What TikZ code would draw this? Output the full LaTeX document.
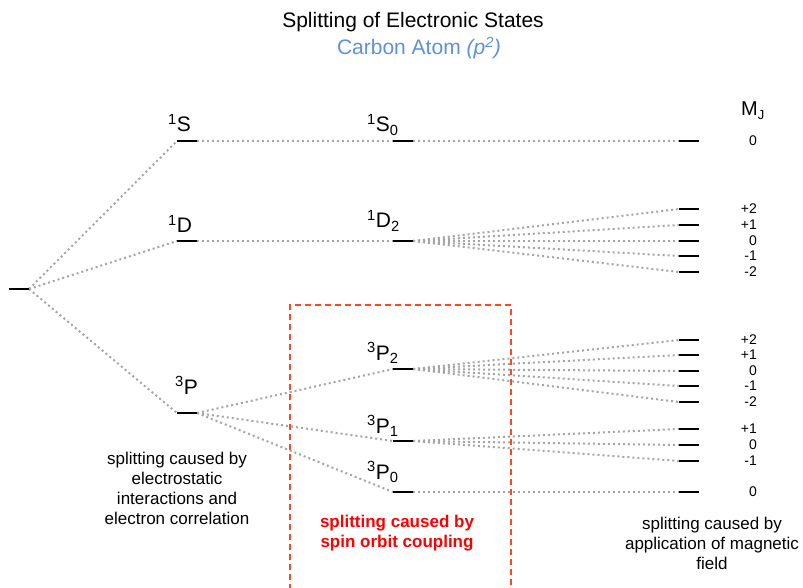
\documentclass[tikz,border=0pt]{standalone}
\usepackage{fontspec}
\setmainfont{Liberation Sans}
\definecolor{dotgray}{RGB}{165,165,165}
\definecolor{boxred}{RGB}{255,70,40}
\definecolor{subblue}{RGB}{91,146,220}
\definecolor{txtred}{RGB}{255,0,0}
\begin{document}
\begin{tikzpicture}[x=1pt,y=-1pt,
  lvl/.style={minimum width=20pt,minimum height=0pt,inner sep=0pt,outer sep=0pt},
  dotline/.style={draw=dotgray,line width=2pt,dash pattern=on 2pt off 3pt},
  bar/.style={line width=2.5pt,black},
  lab/.style={inner sep=0pt,anchor=base west,font=\fontsize{21}{24}\selectfont},
  mj/.style={inner sep=0pt,anchor=east,font=\fontsize{14}{15}\selectfont},
  captext/.style={inner sep=0pt,align=center,font=\fontsize{17}{20}\selectfont}]
\useasboundingbox (0,0) rectangle (803,588);
% title
\node[inner sep=0pt,font=\fontsize{21}{24}\selectfont] (title) at (413,22) {Splitting of Electronic States};
\node[inner sep=0pt,font=\fontsize{21}{24}\selectfont,text=subblue] (sub) at (419,48) {Carbon Atom \textit{(p\textsuperscript{2})}};
% levels
\node[lvl] (root) at (19,289) {};
\node[lvl] (S) at (187,141) {};
\node[lvl] (D) at (187,241) {};
\node[lvl] (P) at (187,413) {};
\node[lvl] (S0) at (403,141) {};
\node[lvl] (D2) at (403,241) {};
\node[lvl] (P2) at (403,369) {};
\node[lvl] (P1) at (403,441) {};
\node[lvl] (P0) at (403,492) {};
\foreach \n/\y in {r0/141,d1/209,d2/225,d3/241,d4/256,d5/272,p1/340,p2/355,p3/371,p4/386,p5/402,q1/429,q2/445,q3/461,z0/492}
  \node[lvl] (\n) at (689,\y) {};
% connectors
\foreach \a/\b in {root/S,root/D,root/P,S/S0,D/D2,P/P2,P/P1,P/P0,S0/r0,D2/d1,D2/d2,D2/d3,D2/d4,D2/d5,P2/p1,P2/p2,P2/p3,P2/p4,P2/p5,P1/q1,P1/q2,P1/q3,P0/z0}
  \draw[dotline] (\a.east) -- (\b.west);
% bars
\foreach \n in {root,S,D,P,S0,D2,P2,P1,P0,r0,d1,d2,d3,d4,d5,p1,p2,p3,p4,p5,q1,q2,q3,z0}
  \draw[bar] (\n.west) -- (\n.east);
% level labels
\node[lab] (lS) at (168,132) {\textsuperscript{1}S};
\node[lab] (lD) at (168,233) {\textsuperscript{1}D};
\node[lab] (lP) at (175,394) {\textsuperscript{3}P};
\node[lab] (lS0) at (367,132) {\textsuperscript{1}S\textsubscript{0}};
\node[lab] (lD2) at (367,228) {\textsuperscript{1}D\textsubscript{2}};
\node[lab] (lP2) at (367,360) {\textsuperscript{3}P\textsubscript{2}};
\node[lab] (lP1) at (367,433) {\textsuperscript{3}P\textsubscript{1}};
\node[lab] (lP0) at (367,479) {\textsuperscript{3}P\textsubscript{0}};
% MJ
\node[inner sep=0pt,anchor=base west,font=\fontsize{20}{22}\selectfont] (MJ) at (741,116) {M{\fontsize{13}{14}\selectfont\raisebox{-4pt}{J}}};
\foreach \n/\t in {r0/0,d1/+2,d2/+1,d3/0,d4/-1,d5/-2,p1/+2,p2/+1,p3/0,p4/-1,p5/-2,q1/+1,q2/0,q3/-1,z0/0}
  \node[mj] (m\n) at ([xshift=58pt]\n.east) {\t};
% red dashed box
\coordinate (bl) at (290,590);
\coordinate (tl) at (290,305);
\coordinate (tr) at (511,305);
\coordinate (br) at (511,590);
\draw[boxred,line width=1.4pt,dash pattern=on 6pt off 4pt] (bl) -- (tl) -- (tr) -- (br);
% captions
\node[captext] (c1) at (177,488) {splitting caused by\\electrostatic\\interactions and\\electron correlation};
\node[captext,text=txtred,font=\fontsize{17}{20}\selectfont\bfseries] (c2) at (397,533) {splitting caused by\\spin orbit coupling};
\node[captext] (c3) at (712,543) {splitting caused by\\application of magnetic\\field};
\end{tikzpicture}
\end{document}
